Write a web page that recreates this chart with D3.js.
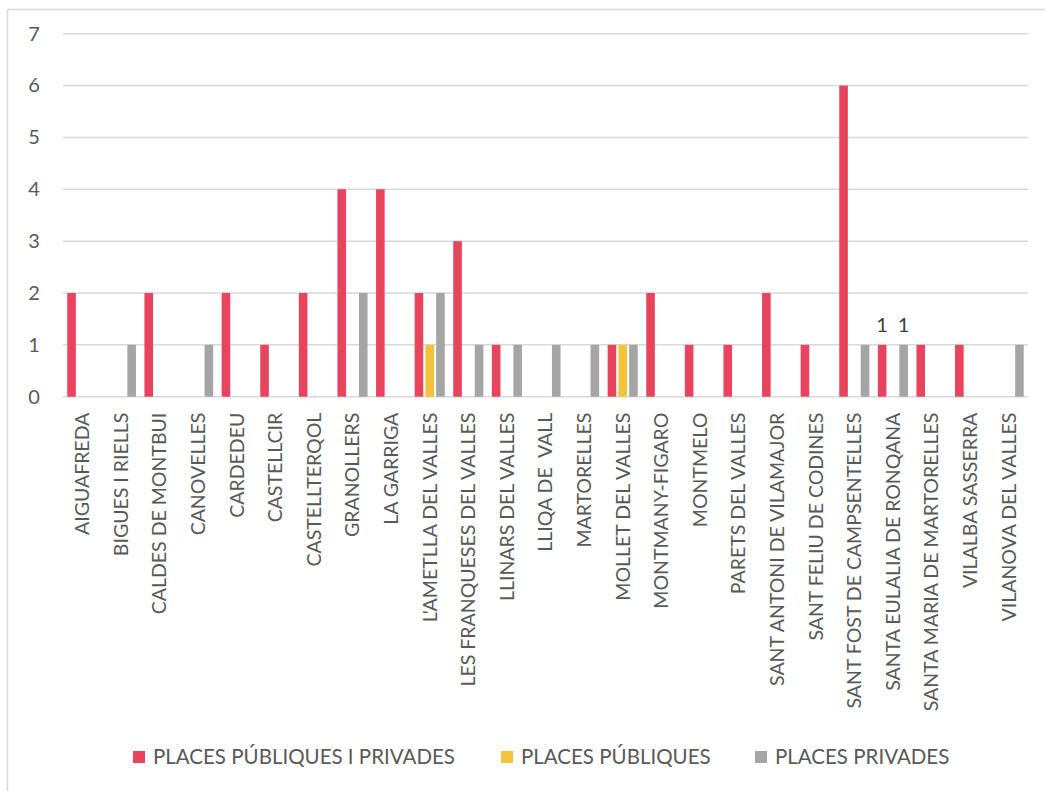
<!DOCTYPE html>
<html><head><meta charset="utf-8">
<script src="https://cdn.jsdelivr.net/npm/d3@7"></script>
<style>body{margin:0;background:#fff}svg{display:block}</style>
</head><body>
<script>
const categories = ["AIGUAFREDA","BIGUES I RIELLS","CALDES DE MONTBUI","CANOVELLES","CARDEDEU","CASTELLCIR","CASTELLTERQOL","GRANOLLERS","LA GARRIGA","L'AMETLLA DEL VALLES","LES FRANQUESES DEL VALLES","LLINARS DEL VALLES","LLIQA DE  VALL","MARTORELLES","MOLLET DEL VALLES","MONTMANY-FIGARO","MONTMELO","PARETS DEL VALLES","SANT ANTONI DE VILAMAJOR","SANT FELIU DE CODINES","SANT FOST DE CAMPSENTELLES","SANTA EULALIA DE RONQANA","SANTA MARIA DE MARTORELLES","VILALBA SASSERRA","VILANOVA DEL VALLES"];
const seriesNames = ["PLACES PÚBLIQUES I PRIVADES","PLACES PÚBLIQUES","PLACES PRIVADES"];
const publiquesIPrivades = [2,0,2,0,2,1,2,4,4,2,3,1,0,0,1,2,1,1,2,1,6,1,1,1,0];
const publiques          = [0,0,0,0,0,0,0,0,0,1,0,0,0,0,1,0,0,0,0,0,0,0,0,0,0];
const privades           = [0,1,0,1,0,0,0,2,0,2,1,1,1,1,1,0,0,0,0,0,1,1,0,0,1];
const labelledCategories = ["SANTA EULALIA DE RONQANA"];
const yTicks = [0,1,2,3,4,5,6,7];
const colors = ["#E8445E","#F2C43C","#A5A5A5"];

(function(){
const W = 1045, H = 791;
const svg = d3.select("body").append("svg").attr("width", W).attr("height", H);
const font = "Lato, 'Open Sans', sans-serif";
const textColor = "#595959";

svg.append("line").attr("x1",7.5).attr("x2",W).attr("y1",9.5).attr("y2",9.5).attr("stroke","#d9d9d9").attr("stroke-width",1.5);
svg.append("line").attr("x1",7.5).attr("x2",7.5).attr("y1",9.5).attr("y2",H).attr("stroke","#d9d9d9").attr("stroke-width",1.5);

const pL = 63, pR = 1028, pT = 33.7, pB = 396.7;
const x0 = d3.scaleBand().domain(categories).range([pL, pR]).paddingInner(0.22).paddingOuter(0.11);
const x1 = d3.scaleBand().domain(seriesNames).range([0, x0.bandwidth()]).paddingInner(0.2);
const y = d3.scaleLinear().domain([0,7]).range([pB, pT]);

svg.append("g").selectAll("line").data(yTicks).join("line")
  .attr("x1", pL).attr("x2", pR)
  .attr("y1", d => y(d)).attr("y2", d => y(d))
  .attr("stroke", "#d9d9d9").attr("stroke-width", 1.5);

const yAxis = d3.axisLeft(y).tickValues(yTicks).tickFormat(d3.format("d")).tickSize(0).tickPadding(0);
const yg = svg.append("g").attr("transform", `translate(${40},0)`).call(yAxis);
yg.select(".domain").remove();
yg.selectAll("text").attr("font-family", font).attr("font-size", 20).attr("fill", textColor).attr("text-anchor","middle").attr("dx",-6);

const seriesData = [publiquesIPrivades, publiques, privades];
const groups = svg.append("g").selectAll("g").data(categories).join("g")
  .attr("transform", d => `translate(${x0(d)},0)`);
groups.selectAll("rect").data((c, i) => seriesNames.map((s, j) => ({s, v: seriesData[j][i], c})).filter(d => d.v > 0))
  .join("rect")
  .attr("x", d => x1(d.s)).attr("width", x1.bandwidth())
  .attr("y", d => y(d.v)).attr("height", d => y(0) - y(d.v))
  .attr("fill", d => colors[seriesNames.indexOf(d.s)]);

groups.filter(c => labelledCategories.includes(c)).selectAll("text.lbl")
  .data((c) => { const i = categories.indexOf(c); return seriesNames.map((s, j) => ({s, v: seriesData[j][i]})).filter(d => d.v > 0); })
  .join("text").attr("class","lbl")
  .attr("x", d => x1(d.s) + x1.bandwidth()/2).attr("y", d => y(d.v) - 13)
  .attr("text-anchor","middle").attr("font-family", font).attr("font-size", 20).attr("fill", "#404040")
  .text(d => d.v);

const xAxis = d3.axisBottom(x0).tickSize(0).tickPadding(0);
const xg = svg.append("g").attr("transform", `translate(0,${pB})`).call(xAxis);
xg.select(".domain").remove();
xg.selectAll("text")
  .attr("font-family", font).attr("font-size", 19.5).attr("fill", textColor)
  .style("white-space","pre")
  .attr("text-anchor","end").attr("dy","0.35em").attr("y",0).attr("x",0)
  .attr("transform","translate(0,16) rotate(-90)");

const legendX = [133, 501, 755];
const lg = svg.append("g").selectAll("g").data(seriesNames).join("g")
  .attr("transform", (d,i) => `translate(${legendX[i]},757)`);
lg.append("rect").attr("x",0).attr("y",-6).attr("width",12).attr("height",12).attr("fill",(d,i)=>colors[i]);
lg.append("text").attr("x",20).attr("y",0).attr("dy","0.35em")
  .attr("font-family", font).attr("font-size", 20.5).attr("fill", textColor).text(d => d);
})();
</script>
</body></html>
